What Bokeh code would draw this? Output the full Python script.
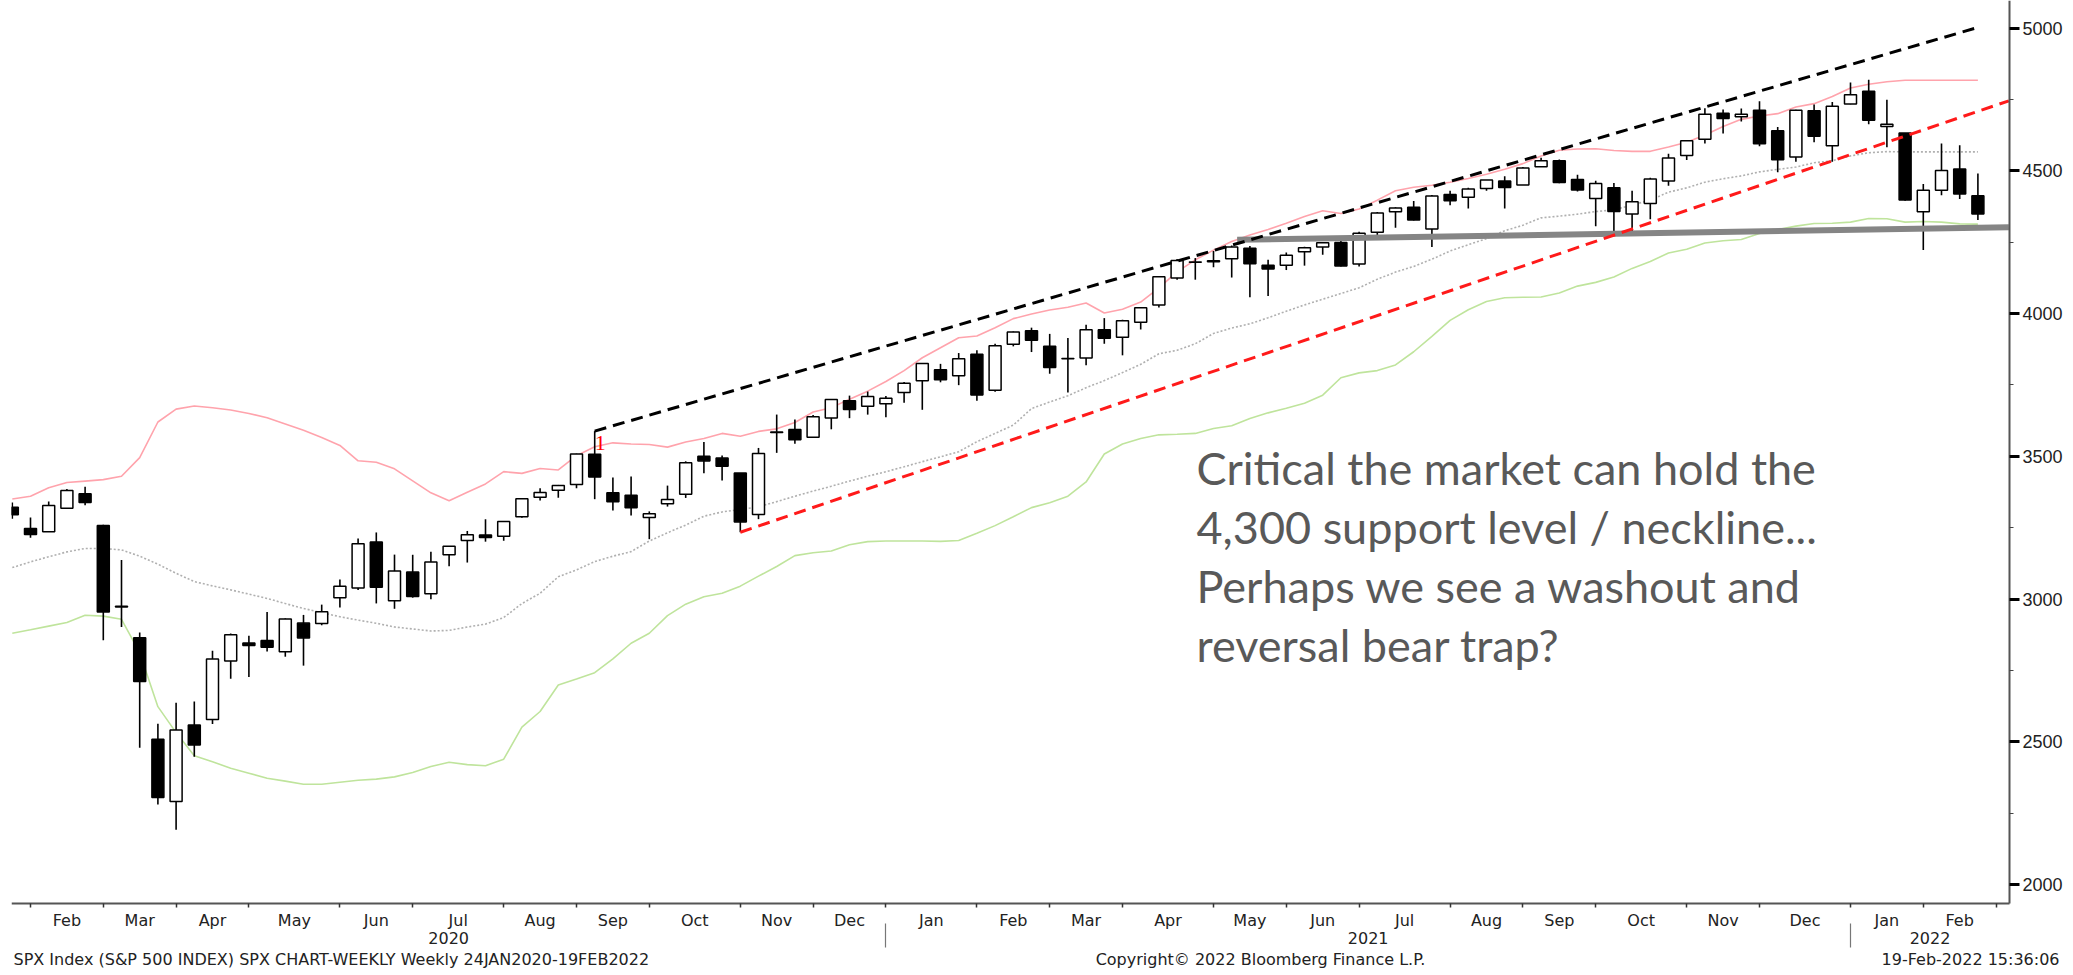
from bokeh.plotting import figure
from bokeh.models import Range1d, FixedTicker, LinearAxis, Label
from bokeh.embed import file_html
from bokeh.resources import INLINE

# ---------------- data (SPX weekly, 24 Jan 2020 .. 18 Feb 2022) ----------------
opens = [3321.0,3247.2,3235.7,3318.3,3369.0,3257.6,2974.3,2863.9,2508.6,2290.7,
         2559.0,2578.3,2782.5,2845.6,2854.7,2815.0,2915.5,2913.9,3004.1,3038.8,
         3199.9,2993.8,3094.4,3018.6,3155.3,3205.1,3224.3,3219.8,3288.3,3356.0,
         3380.9,3401.2,3507.4,3371.9,3363.6,3285.6,3333.9,3367.3,3500.0,3493.7,
         3441.4,3296.2,3583.0,3594.0,3566.8,3634.2,3694.7,3675.3,3684.3,3723.0,
         3764.6,3803.1,3781.9,3857.1,3731.2,3892.6,3939.6,3885.6,3842.5,3844.4,
         3943.0,3916.5,3969.3,4029.6,4124.7,4179.8,4185.1,4192.0,4228.3,4169.1,
         4168.6,4216.5,4233.0,4248.9,4173.4,4284.9,4356.5,4372.4,4296.4,4416.4,
         4406.9,4437.8,4463.7,4450.3,4513.8,4535.4,4469.7,4403.0,4440.4,4348.8,
         4385.4,4463.7,4553.7,4610.6,4701.5,4689.3,4712.0,4640.2,4548.4,4710.3,
         4587.9,4734.0,4778.1,4655.3,4632.2,4356.3,4431.8,4505.8,4412.6]
highs = [3337.8,3285.9,3341.4,3385.1,3393.5,3259.8,3136.7,2882.6,2563.0,2637.0,
         2641.4,2818.6,2879.2,2871.6,2954.9,2932.2,2944.3,2980.3,3068.7,3211.7,
         3233.1,3155.5,3154.9,3165.8,3186.0,3238.3,3279.3,3272.2,3352.5,3387.9,
         3399.5,3509.2,3588.1,3425.6,3428.9,3306.9,3397.2,3482.3,3549.9,3502.4,
         3441.4,3529.1,3646.0,3628.5,3644.3,3699.2,3712.4,3726.7,3711.2,3760.2,
         3826.7,3823.6,3861.5,3870.9,3894.0,3937.0,3950.4,3928.6,3914.5,3960.3,
         3983.9,3978.2,4020.6,4129.5,4191.3,4194.2,4218.8,4238.0,4236.4,4188.7,
         4213.4,4234.1,4249.7,4257.2,4286.1,4355.8,4372.0,4393.7,4415.0,4430.0,
         4440.8,4468.0,4481.0,4513.3,4545.9,4539.0,4485.9,4465.4,4457.3,4429.9,
         4475.8,4559.7,4608.1,4718.5,4714.9,4717.8,4743.8,4652.9,4713.6,4732.0,
         4740.7,4808.9,4818.6,4748.8,4632.2,4453.2,4595.3,4588.9,4490.4]
lows = [3281.5,3214.6,3234.5,3315.0,3328.5,2855.8,2901.5,2478.9,2280.5,2191.9,
        2447.5,2562.4,2721.0,2727.1,2816.0,2797.9,2766.6,2908.0,2969.8,3031.5,
        2984.5,2965.7,3004.6,2999.5,3115.0,3127.7,3200.8,3204.0,3284.5,3345.0,
        3354.7,3387.9,3349.6,3310.0,3292.4,3209.5,3323.7,3354.0,3440.5,3415.0,
        3233.9,3279.7,3511.9,3543.5,3566.8,3594.4,3633.4,3645.8,3636.5,3687.0,
        3662.7,3759.0,3749.0,3694.1,3725.6,3884.9,3865.0,3789.0,3723.3,3818.7,
        3894.0,3853.5,3944.0,4020.6,4118.4,4118.4,4162.0,4126.0,4056.9,4061.4,
        4152.2,4167.6,4206.0,4164.4,4165.0,4275.0,4300.0,4326.0,4233.1,4379.0,
        4367.7,4429.8,4367.7,4450.3,4513.0,4456.0,4427.0,4305.9,4288.5,4278.9,
        4329.9,4447.5,4537.4,4595.1,4630.9,4672.8,4585.4,4495.1,4531.1,4600.2,
        4531.1,4733.0,4662.7,4582.2,4395.3,4222.6,4414.0,4401.4,4327.2]
closes = [3295.5,3225.5,3327.7,3380.2,3337.8,2954.2,2972.4,2711.0,2304.9,2541.5,
          2488.7,2789.8,2874.6,2836.7,2830.7,2929.8,2863.7,2955.5,3044.3,3193.9,
          3041.3,3097.7,3009.1,3130.0,3185.0,3224.7,3215.6,3271.1,3351.3,3372.9,
          3397.2,3508.0,3427.0,3341.0,3319.5,3298.5,3348.4,3477.1,3483.8,3465.4,
          3270.0,3509.4,3585.2,3557.5,3638.4,3699.1,3663.5,3709.4,3703.1,3756.1,
          3824.7,3768.3,3841.5,3714.2,3886.8,3934.8,3906.7,3811.2,3841.9,3943.3,
          3913.1,3974.5,4019.9,4128.8,4185.5,4180.2,4181.2,4232.6,4173.9,4155.9,
          4204.1,4229.9,4247.4,4166.5,4280.7,4352.3,4369.6,4327.2,4411.8,4395.3,
          4436.5,4468.0,4441.7,4509.4,4535.4,4458.6,4433.0,4455.5,4357.0,4391.3,
          4471.4,4544.9,4605.4,4697.5,4682.9,4698.0,4594.6,4538.4,4712.0,4620.6,
          4725.8,4766.2,4677.0,4662.9,4397.9,4431.9,4500.5,4418.6,4348.9]

bb_upper = [3350,3360,3390,3408,3413,3418,3430,3495,3620,3665,
            3676,3670,3662,3650,3635,3613,3591,3566,3538,3484,
            3479,3456,3414,3372,3344,3374,3403,3446,3440,3457,
            3452,3502,3533,3547,3543,3541,3532,3550,3562,3580,
            3570,3587,3596,3618,3655,3670,3700,3728,3762,3800,
            3845,3880,3915,3921,3950,3982,3998,4012,4022,4037,
            4002,4015,4040,4090,4146,4188,4222,4252,4275,4294,
            4316,4340,4360,4350,4366,4397,4430,4442,4449,4460,
            4473,4488,4505,4525,4552,4572,4576,4577,4571,4568,
            4568,4583,4600,4625,4655,4680,4692,4700,4723,4735,
            4760,4790,4803,4812,4817,4817,4817,4817,4817]
bb_mid = [3110,3130,3148,3165,3177,3177,3172,3150,3122,3090,
          3061,3046,3032,3017,3002,2984,2967,2952,2938,2926,
          2915,2902,2895,2888,2890,2902,2912,2935,2984,3020,
          3078,3102,3131,3150,3166,3203,3232,3259,3290,3305,
          3313,3323,3341,3360,3378,3395,3413,3430,3446,3463,
          3481,3498,3516,3551,3580,3609,3667,3690,3712,3740,
          3765,3793,3822,3859,3871,3894,3930,3949,3964,3985,
          4008,4030,4050,4070,4090,4120,4145,4165,4190,4219,
          4241,4262,4290,4309,4335,4341,4348,4357,4363,4380,
          4397,4425,4440,4460,4472,4482,4496,4505,4513,4528,
          4535,4552,4563,4567,4566,4566,4566,4566,4566]
bb_lower = [2880,2892,2905,2918,2943,2940,2929,2812,2623,2532,
            2451,2430,2407,2390,2372,2362,2351,2351,2358,2365,
            2369,2377,2392,2413,2428,2420,2416,2439,2551,2606,
            2699,2720,2742,2790,2845,2880,2942,2982,3008,3020,
            3045,3080,3114,3152,3162,3168,3190,3201,3203,3203,
            3203,3202,3205,3230,3257,3288,3320,3337,3360,3410,
            3508,3543,3562,3575,3577,3580,3597,3607,3632,3652,
            3668,3686,3714,3775,3792,3800,3820,3866,3920,3976,
            4013,4042,4055,4057,4058,4072,4096,4109,4128,4158,
            4182,4212,4225,4247,4255,4259,4280,4294,4306,4315,
            4316,4320,4333,4332,4320,4322,4320,4314,4313]

# drawn trend lines (week index, price)
resist_x = [32, 108]
resist_y = [3588.1, 5002]
support_x = [40, 109.7]
support_y = [3233.9, 4745]
neck_x = [67.3, 109.7]
neck_y = [4258, 4302]

# axis labels
month_names = ["Feb","Mar","Apr","May","Jun","Jul","Aug","Sep","Oct","Nov","Dec",
               "Jan","Feb","Mar","Apr","May","Jun","Jul","Aug","Sep","Oct","Nov","Dec",
               "Jan","Feb"]
month_bounds = [1,5,9,13,18,22,27,31,35,40,44,48,53,57,61,66,70,74,79,83,87,92,96,101,105,109]
year_names = ["2020","2021","2022"]
year_bounds = [48, 101]
price_ticks = [2000, 2500, 3000, 3500, 4000, 4500, 5000]
price_minor = [2250, 2750, 3250, 3750, 4250, 4750]

note_lines = ["Critical the market can hold the",
              "4,300 support level / neckline...",
              "Perhaps we see a washout and",
              "reversal bear trap?"]
footer_left = "SPX Index (S&P 500 INDEX) SPX CHART-WEEKLY  Weekly 24JAN2020-19FEB2022"
footer_mid = "Copyright\u00a9 2022 Bloomberg Finance L.P."
footer_right = "19-Feb-2022 15:36:06"

# ---------------- layout helpers (canvas pixels -> data units) ----------------
PX_PER_PT = 0.2855
Y2000 = 884.0                   # canvas y of the 2000 level
PX_PER_WEEK = 18.2
X_WEEK0 = 11.8                  # canvas x of the first weekly bar


def price_at(py):
    return 2000 - (py - Y2000) / PX_PER_PT


def week_at(px):
    return (px - X_WEEK0) / PX_PER_WEEK


FRAME_LEFT, FRAME_RIGHT = 11, 2070
FRAME_TOP, FRAME_BOTTOM = 0, 973
AXIS_X, AXIS_Y = 2009, 903
X0, X1 = week_at(FRAME_LEFT), week_at(FRAME_RIGHT)
XA = week_at(AXIS_X)

p = figure(frame_width=FRAME_RIGHT - FRAME_LEFT, frame_height=FRAME_BOTTOM - FRAME_TOP,
           x_range=Range1d(X0, X1),
           y_range=Range1d(price_at(FRAME_BOTTOM), price_at(FRAME_TOP)),
           y_axis_location="right", output_backend="svg", toolbar_location=None,
           min_border_left=FRAME_LEFT, min_border_top=0, min_border_right=0,
           min_border_bottom=0)
p.outline_line_color = None
p.xgrid.visible = False
p.ygrid.visible = False
p.background_fill_color = "white"
p.border_fill_color = "white"

idx = list(range(len(opens)))

# Bollinger bands
p.line(idx, bb_upper, line_color="#ffa3ac", line_width=1.6)
p.line(idx, bb_mid, line_color="#b0b0b0", line_width=1.6, line_dash="2 2")
p.line(idx, bb_lower, line_color="#bfe49c", line_width=1.6)

# candles
p.segment(x0=idx, y0=lows, x1=idx, y1=highs, line_color="black", line_width=1.6)
up_x = [i for i in idx if closes[i] >= opens[i]]
dn_x = [i for i in idx if closes[i] < opens[i]]
p.vbar(x=up_x, bottom=[opens[i] for i in up_x], top=[closes[i] for i in up_x], width=0.66,
       fill_color="white", line_color="black", line_width=1.5)
p.vbar(x=dn_x, bottom=[closes[i] for i in dn_x], top=[opens[i] for i in dn_x], width=0.66,
       fill_color="black", line_color="black", line_width=1.5)

# trend lines
p.line(neck_x, neck_y, line_color="#858585", line_width=6)
p.line(resist_x, resist_y, line_color="black", line_width=3, line_dash="12 7")
p.line(support_x, support_y, line_color="#ff1a1a", line_width=3, line_dash="12 7")

# red marker "1"
p.add_layout(Label(x=32.3, y=3545, text="1", text_color="#ff0000", text_font="Liberation Serif",
                   text_font_size="22px", text_align="center", text_baseline="middle"))

# annotation (screen units: from frame bottom-left)
for k, t in enumerate(note_lines):
    p.add_layout(Label(x=1196 - FRAME_LEFT, y=(FRAME_BOTTOM - 467) - 59 * k,
                       x_units="screen", y_units="screen",
                       text=t, text_font="Lato", text_font_size="45px", text_color="#595959",
                       text_align="left", text_baseline="alphabetic"))

# ---------------- axes ----------------
month_mid = [(a + b) / 2 for a, b in zip(month_bounds[:-1], month_bounds[1:])]
xa = p.xaxis[0]
xa.fixed_location = price_at(AXIS_Y)
xa.bounds = (X0, XA)
xa.ticker = FixedTicker(ticks=month_mid, minor_ticks=month_bounds)
xa.major_label_overrides = {m: n for m, n in zip(month_mid, month_names)}
xa.major_tick_line_color = None
xa.major_tick_out = 0
xa.major_tick_in = 0
xa.minor_tick_in = 0
xa.minor_tick_out = 4
xa.minor_tick_line_color = "#333333"
xa.minor_tick_line_width = 1.5
xa.axis_line_color = "#555555"
xa.axis_line_width = 2
xa.major_label_standoff = 3
xa.major_label_text_font = "DejaVu Sans"
xa.major_label_text_font_size = "16px"
xa.major_label_text_color = "#222222"

yb = [X0] + year_bounds + [XA]
year_mid = [(a + b) / 2 for a, b in zip(yb[:-1], yb[1:])]
xa2 = LinearAxis(ticker=FixedTicker(ticks=year_mid, minor_ticks=year_bounds),
                 major_label_overrides={m: n for m, n in zip(year_mid, year_names)},
                 fixed_location=price_at(931),
                 axis_line_color=None, major_tick_line_color=None,
                 major_tick_out=0, major_tick_in=0,
                 minor_tick_in=8, minor_tick_out=16, minor_tick_line_color="#777777",
                 minor_tick_line_width=1.2,
                 major_label_standoff=-16, major_label_text_font="DejaVu Sans",
                 major_label_text_font_size="16px", major_label_text_color="#222222")
p.add_layout(xa2, "below")

ya = p.yaxis[0]
ya.fixed_location = XA
ya.ticker = FixedTicker(ticks=price_ticks, minor_ticks=price_minor)
ya.bounds = (price_at(AXIS_Y), price_at(FRAME_TOP))
ya.axis_line_color = "#555555"
ya.axis_line_width = 2
ya.major_tick_in = 0
ya.major_tick_out = 10
ya.major_tick_line_width = 3
ya.major_tick_line_color = "black"
ya.minor_tick_in = 0
ya.minor_tick_out = 4
ya.minor_tick_line_color = "#444444"
ya.major_label_standoff = 3
ya.major_label_text_font = "Liberation Sans"
ya.major_label_text_font_size = "18px"
ya.major_label_text_color = "#222222"

# footer (inside the frame, below the axes)
for t, x, al in [(footer_left, 13, "left"), (footer_mid, 1260, "center"), (footer_right, 2059, "right")]:
    p.add_layout(Label(x=x - FRAME_LEFT, y=FRAME_BOTTOM - 959, x_units="screen", y_units="screen",
                       text=t, text_font="DejaVu Sans", text_font_size="16px", text_color="#222222",
                       text_align=al, text_baseline="middle"))

open("out.html", "w").write(file_html(p, INLINE))
